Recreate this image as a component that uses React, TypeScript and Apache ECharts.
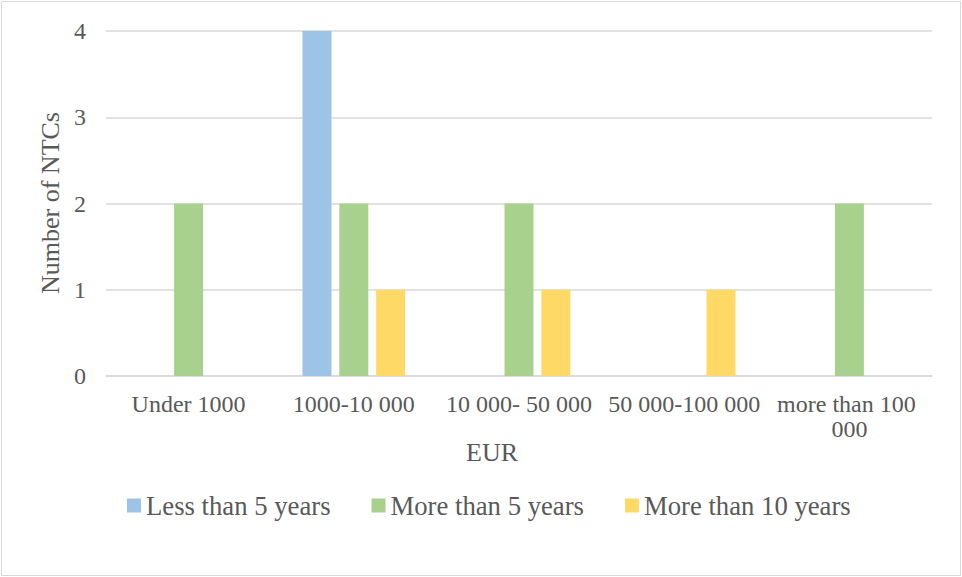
import React, { useEffect, useRef } from "react";
import * as echarts from "echarts";

const categories = ["Under 1000", "1000-10 000", "10 000- 50 000", "50 000-100 000", "more than 100 000"];
const lessThan5 = [0, 4, 0, 0, 0];
const moreThan5 = [2, 2, 2, 0, 2];
const moreThan10 = [0, 1, 1, 1, 0];
const seriesNames = ["Less than 5 years", "More than 5 years", "More than 10 years"];
const colors = ["#9DC3E6", "#A9D18E", "#FFD966"];

const FONT = "'Liberation Serif', 'Times New Roman', serif";
const TEXT = "#595959";

export default function App() {
  const ref = useRef<HTMLDivElement>(null);

  useEffect(() => {
    if (!ref.current) return;
    const chart = echarts.init(ref.current, null, { renderer: "svg" });
    const values = [lessThan5, moreThan5, moreThan10];
    chart.setOption({
      animation: false,
      backgroundColor: "#ffffff",
      textStyle: { fontFamily: FONT, color: TEXT },
      grid: { left: 106, right: 30, top: 31, bottom: 201, containLabel: false },
      legend: {
        left: 127,
        top: 492,
        padding: 0,
        itemWidth: 14,
        itemHeight: 14,
        itemGap: 41,
        icon: "rect",
        textStyle: { fontFamily: FONT, fontSize: 26.7, color: TEXT, lineHeight: 27 },
        data: seriesNames,
      },
      xAxis: {
        type: "category",
        data: categories,
        axisLine: { lineStyle: { color: "#D9D9D9", width: 1.5 } },
        axisTick: { show: false },
        axisLabel: {
          fontFamily: FONT,
          fontSize: 24,
          color: TEXT,
          margin: 15,
          interval: 0,
          width: 160,
          overflow: "break",
          lineHeight: 25,
        },
      },
      yAxis: {
        type: "value",
        min: 0,
        max: 4,
        interval: 1,
        axisLine: { show: false },
        axisTick: { show: false },
        splitLine: { lineStyle: { color: "#D9D9D9", width: 1.5 } },
        axisLabel: { fontFamily: FONT, fontSize: 24, color: TEXT, margin: 20 },
      },
      graphic: [
        {
          type: "rect",
          shape: { x: 1.5, y: 1.5, width: 959, height: 574 },
          style: { fill: "none", stroke: "#D9D9D9", lineWidth: 1 },
          silent: true,
        },
        {
          type: "text",
          x: 50,
          y: 203,
          rotation: Math.PI / 2,
          style: {
            text: "Number of NTCs",
            fontFamily: FONT,
            fontSize: 26,
            fill: TEXT,
            align: "center",
            verticalAlign: "middle",
          },
        },
        {
          type: "text",
          x: 492,
          y: 452,
          style: {
            text: "EUR",
            fontFamily: FONT,
            fontSize: 26,
            fill: TEXT,
            align: "center",
            verticalAlign: "middle",
          },
        },
      ],
      series: seriesNames.map((name, i) => ({
        name,
        type: "bar",
        data: values[i],
        barWidth: 29,
        barGap: "27%",
        itemStyle: { color: colors[i] },
      })),
    });
    return () => chart.dispose();
  }, []);

  return (
    <div
      ref={ref}
      style={{ position: "absolute", left: 0, top: 0, width: 962, height: 577 }}
    />
  );
}
